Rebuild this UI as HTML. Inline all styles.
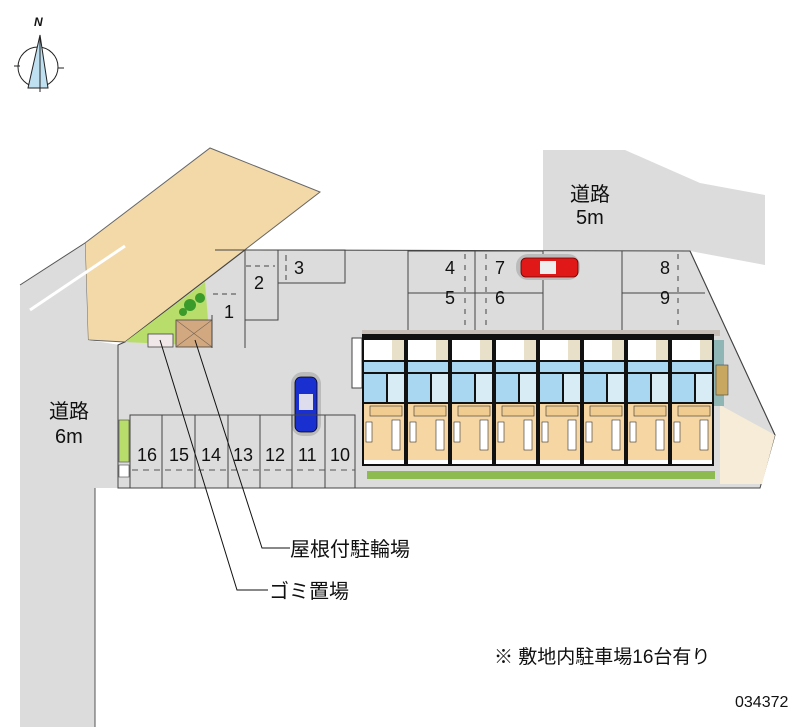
<!DOCTYPE html>
<html><head><meta charset="utf-8"><style>
html,body{margin:0;padding:0;background:#fff;}
svg{display:block;}
text{font-family:"Liberation Sans","Noto Sans CJK JP",sans-serif;fill:#111;}
.n{font-size:18px;font-family:"Liberation Sans Narrow","Liberation Sans",sans-serif;}
</style></head><body>
<svg width="800" height="727" viewBox="0 0 800 727" xmlns="http://www.w3.org/2000/svg">
<defs>
<g id="unit">
  <rect x="0" y="0" width="44" height="132" fill="#111"/>
  <rect x="2" y="6" width="28" height="20" fill="#fff"/>
  <rect x="30" y="6" width="12" height="20" fill="#e8e0c8"/>
  <rect x="2" y="28" width="40" height="10" fill="#a9d6f0"/>
  <rect x="2" y="40" width="22" height="28" fill="#a9d6f0"/>
  <rect x="26" y="40" width="16" height="28" fill="#d8ecf6"/>
  <rect x="2" y="70" width="40" height="56" fill="#f6d6a2"/>
  <rect x="8" y="72" width="32" height="10" fill="#f0cc90" stroke="#333" stroke-width="0.6"/>
  <rect x="4" y="88" width="6" height="20" fill="#fff" stroke="#333" stroke-width="0.6"/>
  <rect x="30" y="86" width="8" height="30" fill="#fff" stroke="#333" stroke-width="0.6"/>
  <rect x="2" y="126" width="40" height="4" fill="#fff"/>
</g>
</defs>

<!-- compass -->
<circle cx="38" cy="67" r="20" fill="none" stroke="#222" stroke-width="1"/>
<polygon points="40,35 28,88 48,88" fill="#bfe0f0" stroke="#222" stroke-width="1"/>
<line x1="40" y1="35" x2="40" y2="92" stroke="#222" stroke-width="1"/>
<line x1="14" y1="66" x2="20" y2="66" stroke="#222"/><line x1="58" y1="68" x2="64" y2="68" stroke="#222"/>
<text x="34" y="26" font-size="12" font-style="italic" font-weight="bold" font-family="Liberation Serif, serif">N</text>

<!-- beige neighbor lot -->
<polygon points="85,243 210,148 320,192 125,342 88,340" fill="#f3d9a8" stroke="#666" stroke-width="1"/>
<!-- left road -->
<polygon points="20,285 85,243 88,340 120,345 118,488 95,488 95,727 20,727" fill="#dcdcdc"/>
<line x1="20" y1="285" x2="85" y2="243" stroke="#555"/>
<line x1="30" y1="310" x2="125" y2="246" stroke="#fff" stroke-width="3"/>
<line x1="95" y1="488" x2="95" y2="727" stroke="#555"/>
<!-- top right road -->
<polygon points="543,150 625,150 700,183 765,195 765,265 690,251 543,251" fill="#dcdcdc"/>

<!-- lot -->
<polygon points="125,342 245,250 690,251 775,435 760,488 118,488 118,345" fill="#dcdcdc" stroke="#444" stroke-width="1"/>
<polygon points="720,405 775,435 762,484 720,484" fill="#f6ecd8"/>
<line x1="690" y1="251" x2="775" y2="435" stroke="#444"/>

<!-- garden / bike area -->
<polygon points="125,342 205,282 210,346" fill="#b9dd6a"/>
<circle cx="190" cy="305" r="6" fill="#3a9a2a"/><circle cx="200" cy="298" r="5" fill="#3a9a2a"/><circle cx="183" cy="312" r="4" fill="#3a9a2a"/>
<rect x="148" y="334" width="25" height="13" fill="#f0e8e8" stroke="#444" stroke-width="0.8"/>
<rect x="176" y="320" width="36" height="27" fill="#d2a880" stroke="#444" stroke-width="0.8"/>
<line x1="176" y1="320" x2="212" y2="347" stroke="#765" stroke-width="0.6"/><line x1="212" y1="320" x2="176" y2="347" stroke="#765" stroke-width="0.6"/>
<line x1="212" y1="315" x2="212" y2="348" stroke="#444"/>

<!-- parking 1,2,3 -->
<polyline points="215,250 245,250 245,348" fill="none" stroke="#444"/>
<rect x="245" y="250" width="33" height="70" fill="none" stroke="#444"/>
<rect x="278" y="250" width="67" height="33" fill="none" stroke="#444"/>
<line x1="213" y1="294" x2="240" y2="294" stroke="#444" stroke-dasharray="5,4"/>
<line x1="246" y1="266" x2="275" y2="266" stroke="#444" stroke-dasharray="5,4"/>
<line x1="286" y1="255" x2="286" y2="280" stroke="#444" stroke-dasharray="6,4"/>
<text class="n" x="224" y="318">1</text>
<text class="n" x="254" y="289">2</text>
<text class="n" x="294" y="274">3</text>

<!-- 4,5,6,7 -->
<rect x="408" y="251" width="135" height="81" fill="none" stroke="#444"/>
<line x1="408" y1="293" x2="543" y2="293" stroke="#444"/>
<line x1="475" y1="251" x2="475" y2="332" stroke="#444"/>
<line x1="465" y1="254" x2="465" y2="330" stroke="#444" stroke-dasharray="5,6"/>
<line x1="486" y1="254" x2="486" y2="330" stroke="#444" stroke-dasharray="5,6"/>
<text class="n" x="445" y="274">4</text>
<text class="n" x="445" y="304">5</text>
<text class="n" x="495" y="274">7</text>
<text class="n" x="495" y="304">6</text>
<!-- 8,9 -->
<polyline points="622,251 622,332 690,332" fill="none" stroke="#444"/>
<line x1="622" y1="293" x2="705" y2="293" stroke="#444"/>
<line x1="678" y1="254" x2="678" y2="330" stroke="#444" stroke-dasharray="5,6"/>
<text class="n" x="660" y="274">8</text>
<text class="n" x="660" y="304">9</text>

<!-- red car -->
<rect x="516" y="254" width="64" height="26" rx="12" fill="#bbb"/>
<rect x="521" y="258" width="57" height="19" rx="5" fill="#e01818" stroke="#600" stroke-width="0.8"/>
<rect x="540" y="261" width="16" height="13" fill="#eee"/>
<!-- blue car -->
<rect x="291" y="372" width="30" height="64" rx="12" fill="#bbb"/>
<rect x="295" y="377" width="22" height="55" rx="6" fill="#1a2fd0" stroke="#001" stroke-width="0.8"/>
<rect x="299" y="394" width="14" height="16" fill="#dde"/>

<!-- parking 10-16 -->
<rect x="130" y="415" width="225" height="73" fill="none" stroke="#444"/>
<g stroke="#444"><line x1="162" y1="415" x2="162" y2="488"/><line x1="195" y1="415" x2="195" y2="488"/><line x1="228" y1="415" x2="228" y2="488"/><line x1="260" y1="415" x2="260" y2="488"/><line x1="292" y1="415" x2="292" y2="488"/><line x1="325" y1="415" x2="325" y2="488"/></g>
<line x1="132" y1="470" x2="355" y2="470" stroke="#555" stroke-dasharray="6,5"/>
<rect x="119" y="420" width="10" height="42" fill="#b9dd6a" stroke="#444" stroke-width="0.6"/>
<rect x="119" y="465" width="10" height="12" fill="#fff" stroke="#444" stroke-width="0.6"/>
<g class="n"><text class="n" x="137" y="461">16</text><text class="n" x="169" y="461">15</text><text class="n" x="201" y="461">14</text><text class="n" x="233" y="461">13</text><text class="n" x="265" y="461">12</text><text class="n" x="298" y="461">11</text><text class="n" x="330" y="461">10</text></g>

<!-- building -->
<rect x="362" y="330" width="358" height="6" fill="#c8c0b8"/>
<rect x="352" y="338" width="10" height="50" fill="#fff" stroke="#444"/>
<use href="#unit" x="362" y="334"/><use href="#unit" x="406" y="334"/><use href="#unit" x="450" y="334"/><use href="#unit" x="494" y="334"/>
<use href="#unit" x="538" y="334"/><use href="#unit" x="582" y="334"/><use href="#unit" x="626" y="334"/><use href="#unit" x="670" y="334"/>
<rect x="714" y="340" width="10" height="66" fill="#8fb5b5"/>
<rect x="716" y="365" width="12" height="30" fill="#c8a860" stroke="#444" stroke-width="0.6"/>
<rect x="367" y="471" width="348" height="8" fill="#8dbb50"/>

<!-- leader lines -->
<polyline points="195,340 262,548 290,548" fill="none" stroke="#111"/>
<polyline points="160,340 237,590 268,590" fill="none" stroke="#111"/>
<text x="290" y="556" font-size="20">屋根付駐輪場</text>
<text x="269" y="598" font-size="20">ゴミ置場</text>

<!-- road labels -->
<text x="570" y="201" font-size="20">道路</text>
<text x="576" y="224" font-size="20">5m</text>
<text x="49" y="418" font-size="20">道路</text>
<text x="55" y="443" font-size="20">6m</text>

<text x="494" y="663" font-size="19">※ 敷地内駐車場16台有り</text>
<text x="735" y="707" font-size="16">034372</text>
</svg>
</body></html>
